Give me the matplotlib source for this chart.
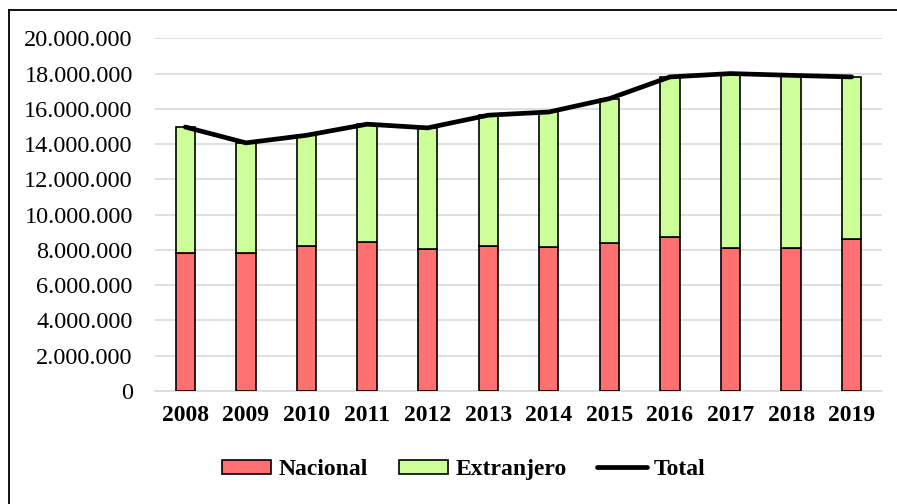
import matplotlib.pyplot as plt
from matplotlib.lines import Line2D
from matplotlib.ticker import FuncFormatter

plt.rcParams['font.family'] = ['Liberation Serif', 'DejaVu Serif']

years = ['2008', '2009', '2010', '2011', '2012', '2013',
         '2014', '2015', '2016', '2017', '2018', '2019']
nacional = [7800000, 7800000, 8250000, 8460000, 8080000, 8250000,
            8160000, 8400000, 8740000, 8120000, 8120000, 8610000]
total = [14970000, 14070000, 14500000, 15130000, 14920000, 15640000,
         15820000, 16580000, 17810000, 18000000, 17900000, 17810000]
extranjero = [t - n for t, n in zip(total, nacional)]

fig = plt.figure(figsize=(8.97, 5.04), dpi=100)
ax = fig.add_axes([0.1728, 0.2242, 0.8105, 0.6998])

x = range(len(years))
b1 = ax.bar(x, nacional, width=0.32, color='#FF7171', edgecolor='black',
            linewidth=1.2, label='Nacional', zorder=3)
b2 = ax.bar(x, extranjero, width=0.32, bottom=nacional, color='#CCFF99',
            edgecolor='black', linewidth=1.2, label='Extranjero', zorder=3)
l1, = ax.plot(x, total, color='black', linewidth=3.4, label='Total',
              solid_capstyle='round', zorder=4)

ax.set_xlim(-0.5, 11.5)
ax.set_ylim(0, 20000000)
ax.set_yticks(range(0, 20000001, 2000000))
ax.yaxis.set_major_formatter(
    FuncFormatter(lambda v, p: f'{int(v):,}'.replace(',', '.')))
ax.set_xticks(list(x))
ax.set_xticklabels(years, fontweight='bold')
ax.tick_params(axis='y', length=0, pad=16, labelsize=17.5)
ax.tick_params(axis='x', length=0, pad=10, labelsize=17)
ax.grid(True, axis='y', color='#D9D9D9', linewidth=1.2, zorder=0)
for s in ['top', 'right', 'left']:
    ax.spines[s].set_visible(False)
ax.spines['bottom'].set_color('#D9D9D9')
ax.spines['bottom'].set_linewidth(1.2)

fig.legend([b1, b2, l1], ['Nacional', 'Extranjero', 'Total'],
           loc='center', bbox_to_anchor=(0.517, 0.068), ncol=3,
           frameon=False, prop={'weight': 'bold', 'size': 17},
           handlelength=2.1, handleheight=0.55, handletextpad=0.3,
           columnspacing=1.3)

# outer frame, only top and left edges show in the original
fx = 8.5 / 897
fy = 1 - 9.5 / 504
fig.add_artist(Line2D([fx, 1], [fy, fy], color='black', linewidth=1.3,
                      transform=fig.transFigure))
fig.add_artist(Line2D([fx, fx], [0, fy], color='black', linewidth=1.3,
                      transform=fig.transFigure))

fig.savefig('out.png', dpi=100)
